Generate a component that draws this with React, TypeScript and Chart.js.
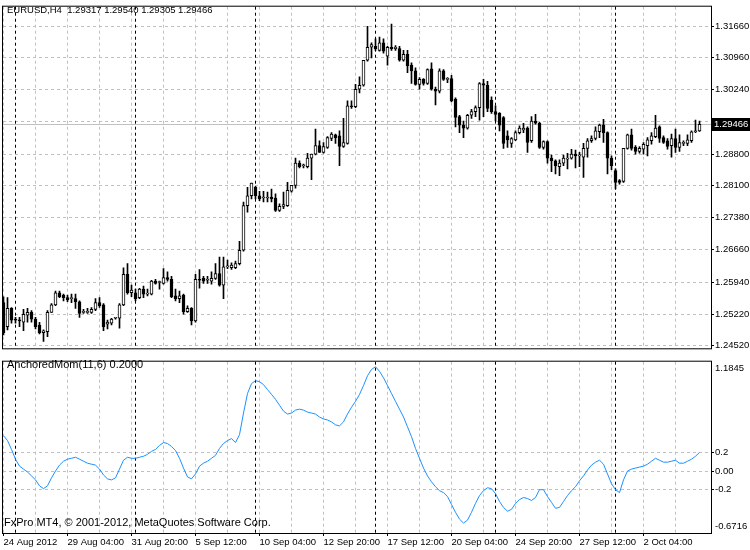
import React, { useEffect, useRef } from "react";
import { Chart, registerables } from "chart.js";

Chart.register(...registerables);

const symbolTitle = "EURUSD,H4  1.29317 1.29540 1.29305 1.29466";
const indicatorTitle = "AnchoredMom(11,6) 0.2000";
const copyrightText = "FxPro MT4, \u00a9 2001-2012, MetaQuotes Software Corp.";

const open = [
  1.2548, 1.2494, 1.2535, 1.2511, 1.2509, 1.2504, 1.2520, 1.2526, 1.2511, 1.2498,
  1.2481, 1.2483, 1.2526, 1.2543, 1.2570, 1.2565, 1.2559, 1.2557, 1.2557, 1.2550,
  1.2526, 1.2526, 1.2526, 1.2533, 1.2548, 1.2543, 1.2500, 1.2502, 1.2513, 1.2513,
  1.2543, 1.2611, 1.2570, 1.2570, 1.2559, 1.2578, 1.2567, 1.2567, 1.2596, 1.2593,
  1.2591, 1.2604, 1.2600, 1.2563, 1.2557, 1.2565, 1.2528, 1.2535, 1.2507, 1.2600,
  1.2602, 1.2598, 1.2596, 1.2602, 1.2613, 1.2587, 1.2628, 1.2626, 1.2626, 1.2635,
  1.2665, 1.2765, 1.2787, 1.2806, 1.2787, 1.2782, 1.2782, 1.2784, 1.2782, 1.2754,
  1.2763, 1.2765, 1.2797, 1.2810, 1.2860, 1.2854, 1.2852, 1.2871, 1.2880, 1.2899,
  1.2884, 1.2895, 1.2915, 1.2923, 1.2921, 1.2897, 1.2904, 1.2988, 1.2986, 1.3025,
  1.3034, 1.3090, 1.3119, 1.3121, 1.3112, 1.3129, 1.3099, 1.3119, 1.3116, 1.3116,
  1.3090, 1.3103, 1.3079, 1.3066, 1.3036, 1.3047, 1.3038, 1.3071, 1.3025, 1.3021,
  1.3066, 1.3047, 1.3049, 1.3003, 1.2964, 1.2945, 1.2938, 1.2967, 1.2975, 1.2984,
  1.3038, 1.3034, 1.3001, 1.2975, 1.2971, 1.2962, 1.2921, 1.2904, 1.2912, 1.2928,
  1.2934, 1.2938, 1.2910, 1.2954, 1.2949, 1.2895, 1.2908, 1.2871, 1.2865, 1.2852,
  1.2860, 1.2869, 1.2871, 1.2880, 1.2876, 1.2873, 1.2893, 1.2910, 1.2915, 1.2930,
  1.2945, 1.2928, 1.2871, 1.2843, 1.2821, 1.2819, 1.2893, 1.2923, 1.2895, 1.2886,
  1.2891, 1.2899, 1.2910, 1.2919, 1.2941, 1.2917, 1.2910, 1.2899, 1.2915, 1.2895,
  1.2904, 1.2904, 1.2910, 1.2930, 1.29317,
];

const high = [
  1.2561, 1.2559, 1.2537, 1.2515, 1.2515, 1.2533, 1.2535, 1.2530, 1.2515, 1.2504,
  1.2487, 1.2530, 1.2546, 1.2574, 1.2574, 1.2567, 1.2565, 1.2567, 1.2567, 1.2552,
  1.2533, 1.2535, 1.2537, 1.2557, 1.2559, 1.2546, 1.2509, 1.2513, 1.2515, 1.2546,
  1.2626, 1.2635, 1.2587, 1.2578, 1.2580, 1.2585, 1.2578, 1.2598, 1.2600, 1.2596,
  1.2624, 1.2617, 1.2607, 1.2578, 1.2574, 1.2567, 1.2541, 1.2537, 1.2611, 1.2622,
  1.2607, 1.2607, 1.2617, 1.2635, 1.2650, 1.2650, 1.2643, 1.2637, 1.2641, 1.2685,
  1.2773, 1.2806, 1.2815, 1.2808, 1.2797, 1.2797, 1.2795, 1.2802, 1.2791, 1.2769,
  1.2795, 1.2817, 1.2810, 1.2871, 1.2865, 1.2858, 1.2882, 1.2880, 1.2936, 1.2910,
  1.2906, 1.2919, 1.2928, 1.2925, 1.2932, 1.2960, 1.2999, 1.2999, 1.3036, 1.3053,
  1.3090, 1.3166, 1.3129, 1.3138, 1.3142, 1.3138, 1.3121, 1.3171, 1.3123, 1.3121,
  1.3112, 1.3112, 1.3084, 1.3073, 1.3051, 1.3049, 1.3071, 1.3084, 1.3030, 1.3071,
  1.3069, 1.3051, 1.3056, 1.3006, 1.2967, 1.2954, 1.2969, 1.2980, 1.2988, 1.3040,
  1.3047, 1.3043, 1.3008, 1.2988, 1.2973, 1.2964, 1.2932, 1.2917, 1.2932, 1.2943,
  1.2949, 1.2941, 1.2964, 1.2969, 1.2951, 1.2910, 1.2910, 1.2878, 1.2867, 1.2867,
  1.2878, 1.2882, 1.2891, 1.2889, 1.2884, 1.2904, 1.2915, 1.2921, 1.2941, 1.2947,
  1.2958, 1.2930, 1.2876, 1.2847, 1.2823, 1.2893, 1.2925, 1.2936, 1.2899, 1.2897,
  1.2906, 1.2917, 1.2928, 1.2967, 1.2943, 1.2921, 1.2915, 1.2925, 1.2936, 1.2923,
  1.2910, 1.2923, 1.2932, 1.2956, 1.29540,
];

const low = [
  1.2476, 1.2487, 1.2502, 1.2502, 1.2494, 1.2485, 1.2504, 1.2504, 1.2489, 1.2478,
  1.2461, 1.2472, 1.2526, 1.2541, 1.2559, 1.2552, 1.2550, 1.2548, 1.2535, 1.2515,
  1.2524, 1.2524, 1.2524, 1.2530, 1.2537, 1.2485, 1.2489, 1.2498, 1.2511, 1.2491,
  1.2541, 1.2567, 1.2561, 1.2552, 1.2557, 1.2559, 1.2563, 1.2565, 1.2589, 1.2578,
  1.2589, 1.2596, 1.2559, 1.2552, 1.2548, 1.2522, 1.2526, 1.2498, 1.2504, 1.2580,
  1.2591, 1.2591, 1.2589, 1.2600, 1.2585, 1.2557, 1.2624, 1.2622, 1.2624, 1.2632,
  1.2663, 1.2750, 1.2780, 1.2780, 1.2776, 1.2773, 1.2773, 1.2773, 1.2752, 1.2752,
  1.2758, 1.2763, 1.2795, 1.2804, 1.2849, 1.2849, 1.2849, 1.2823, 1.2878, 1.2884,
  1.2882, 1.2893, 1.2910, 1.2904, 1.2854, 1.2895, 1.2902, 1.2982, 1.2984, 1.3017,
  1.3032, 1.3088, 1.3095, 1.3112, 1.3110, 1.3106, 1.3079, 1.3112, 1.3112, 1.3088,
  1.3088, 1.3062, 1.3038, 1.3034, 1.3025, 1.3034, 1.3036, 1.3023, 1.2990, 1.3017,
  1.3045, 1.3040, 1.2997, 1.2941, 1.2928, 1.2917, 1.2936, 1.2960, 1.2964, 1.2956,
  1.2964, 1.2975, 1.2971, 1.2954, 1.2932, 1.2893, 1.2895, 1.2895, 1.2910, 1.2925,
  1.2928, 1.2884, 1.2906, 1.2947, 1.2893, 1.2891, 1.2860, 1.2841, 1.2836, 1.2832,
  1.2854, 1.2847, 1.2869, 1.2849, 1.2852, 1.2828, 1.2873, 1.2906, 1.2912, 1.2917,
  1.2906, 1.2836, 1.2845, 1.2802, 1.2813, 1.2817, 1.2891, 1.2889, 1.2880, 1.2882,
  1.2880, 1.2876, 1.2902, 1.2917, 1.2906, 1.2904, 1.2891, 1.2873, 1.2884, 1.2886,
  1.2899, 1.2899, 1.2906, 1.2928, 1.29305,
];

const close = [
  1.2481, 1.2535, 1.2509, 1.2509, 1.2507, 1.2522, 1.2526, 1.2511, 1.2494, 1.2481,
  1.2485, 1.2526, 1.2543, 1.2570, 1.2561, 1.2559, 1.2554, 1.2557, 1.2550, 1.2524,
  1.2526, 1.2528, 1.2533, 1.2548, 1.2541, 1.2494, 1.2504, 1.2511, 1.2513, 1.2543,
  1.2611, 1.2570, 1.2576, 1.2557, 1.2578, 1.2567, 1.2567, 1.2596, 1.2591, 1.2593,
  1.2604, 1.2600, 1.2561, 1.2557, 1.2563, 1.2528, 1.2535, 1.2507, 1.2600, 1.2598,
  1.2596, 1.2598, 1.2602, 1.2613, 1.2587, 1.2628, 1.2628, 1.2632, 1.2635, 1.2665,
  1.2765, 1.2787, 1.2815, 1.2787, 1.2780, 1.2782, 1.2784, 1.2780, 1.2754, 1.2763,
  1.2767, 1.2799, 1.2810, 1.2860, 1.2852, 1.2854, 1.2871, 1.2880, 1.2899, 1.2884,
  1.2897, 1.2917, 1.2925, 1.2917, 1.2897, 1.2906, 1.2988, 1.2986, 1.3025, 1.3034,
  1.3090, 1.3119, 1.3125, 1.3116, 1.3129, 1.3110, 1.3119, 1.3116, 1.3119, 1.3090,
  1.3103, 1.3077, 1.3066, 1.3036, 1.3047, 1.3038, 1.3069, 1.3025, 1.3021, 1.3066,
  1.3047, 1.3047, 1.2999, 1.2962, 1.2945, 1.2938, 1.2967, 1.2975, 1.2984, 1.3038,
  1.3034, 1.2982, 1.2975, 1.2969, 1.2945, 1.2904, 1.2912, 1.2915, 1.2928, 1.2938,
  1.2938, 1.2906, 1.2954, 1.2949, 1.2895, 1.2908, 1.2871, 1.2865, 1.2854, 1.2860,
  1.2871, 1.2871, 1.2880, 1.2876, 1.2876, 1.2893, 1.2910, 1.2915, 1.2932, 1.2945,
  1.2928, 1.2871, 1.2854, 1.2817, 1.2817, 1.2893, 1.2923, 1.2893, 1.2886, 1.2893,
  1.2902, 1.2912, 1.2921, 1.2938, 1.2915, 1.2906, 1.2897, 1.2915, 1.2895, 1.2906,
  1.2906, 1.2912, 1.2930, 1.2932, 1.29466,
];

const momentum = [
  0.383, 0.330, 0.234, 0.128, 0.053, 0.021, -0.011, -0.053, -0.096, -0.160,
  -0.191, -0.160, -0.074, 0.000, 0.064, 0.106, 0.128, 0.138, 0.149, 0.128,
  0.106, 0.085, 0.074, 0.064, 0.021, -0.043, -0.085, -0.096, -0.074, 0.021,
  0.117, 0.149, 0.138, 0.138, 0.149, 0.160, 0.181, 0.213, 0.234, 0.277,
  0.309, 0.298, 0.266, 0.223, 0.138, 0.032, -0.064, -0.085, -0.032, 0.053,
  0.085, 0.106, 0.138, 0.170, 0.245, 0.298, 0.330, 0.351, 0.309, 0.394,
  0.628, 0.840, 0.947, 0.979, 0.968, 0.936, 0.883, 0.830, 0.777, 0.713,
  0.649, 0.617, 0.628, 0.660, 0.670, 0.660, 0.638, 0.628, 0.617, 0.585,
  0.564, 0.553, 0.532, 0.500, 0.489, 0.532, 0.617, 0.691, 0.755, 0.830,
  0.926, 1.032, 1.100, 1.130, 1.080, 1.010, 0.926, 0.840, 0.755, 0.670,
  0.585, 0.479, 0.372, 0.245, 0.138, 0.032, -0.053, -0.117, -0.170, -0.213,
  -0.234, -0.277, -0.362, -0.447, -0.521, -0.564, -0.532, -0.447, -0.351, -0.266,
  -0.213, -0.181, -0.191, -0.245, -0.330, -0.394, -0.436, -0.415, -0.351, -0.309,
  -0.287, -0.298, -0.319, -0.287, -0.202, -0.202, -0.277, -0.340, -0.404, -0.394,
  -0.330, -0.266, -0.213, -0.170, -0.106, -0.053, 0.011, 0.064, 0.096, 0.117,
  0.074, -0.032, -0.138, -0.202, -0.234, -0.096, 0.000, 0.021, 0.032, 0.043,
  0.053, 0.074, 0.106, 0.138, 0.117, 0.096, 0.096, 0.106, 0.117, 0.085,
  0.085, 0.106, 0.128, 0.160, 0.202,
];

const priceTicks = [1.3166, 1.3096, 1.3024, 1.2952, 1.288, 1.281, 1.2738, 1.2666, 1.2594, 1.2522, 1.2452];
const momentumTicks = [1.1845, 0.2, 0, -0.2, -0.6716];
const momentumTickLabels = ["1.1845", "0.2", "0.00", "-0.2", "-0.6716"];
const momentumLevels = [0.2, 0, -0.2];
const dateTickIndex = [0, 16, 32, 48, 64, 80, 96, 112, 128, 144, 160];
const dateTickLabels = [
  "24 Aug 2012", "29 Aug 04:00", "31 Aug 20:00", "5 Sep 12:00", "10 Sep 04:00",
  "12 Sep 20:00", "17 Sep 12:00", "20 Sep 04:00", "24 Sep 20:00", "27 Sep 12:00", "2 Oct 04:00",
];
const weekStarts = [3, 33, 63, 93, 123, 153];
const gridEvery = 8;

// layout constants
const FONT = "'Liberation Sans', Arial, sans-serif";
const FONT_SIZE = 9.5;
const LABEL_FONT_SIZE = 11;
const X_MIN = -0.125;
const X_MAX = 176.875;
const P_MAX = 1.320966;
const P_MIN = 1.244582;
const M_MAX = 1.1845;
const M_MIN = -0.6716;
const SUB_AREA_H = 176;
const EDGE_INSET_PX = 7;
const GRID_COLOR = "#c0c0c0";

function crisp(v: number) {
  return Math.floor(v) + 0.5;
}

const verticalGridPlugin = {
  id: "verticalGrid",
  beforeDatasetsDraw(chart: any) {
    const { ctx, chartArea } = chart;
    const xs = chart.scales.x;
    ctx.save();
    ctx.lineWidth = 1;
    ctx.setLineDash([3, 3]);
    for (let i = 0; i < open.length; i += gridEvery) {
      const px = crisp(xs.getPixelForValue(i));
      ctx.strokeStyle = GRID_COLOR;
      ctx.beginPath();
      ctx.moveTo(px, chartArea.top);
      ctx.lineTo(px, chartArea.bottom);
      ctx.stroke();
    }
    for (const w of weekStarts) {
      const px = crisp(xs.getPixelForValue(w));
      ctx.strokeStyle = "#000";
      ctx.beginPath();
      ctx.moveTo(px, chartArea.top);
      ctx.lineTo(px, chartArea.bottom);
      ctx.stroke();
    }
    ctx.restore();
  },
};

const bidLinePlugin = {
  id: "bidLine",
  beforeDatasetsDraw(chart: any) {
    const { ctx, chartArea } = chart;
    const y = crisp(chart.scales.y.getPixelForValue(close[close.length - 1]));
    ctx.save();
    ctx.strokeStyle = GRID_COLOR;
    ctx.lineWidth = 1;
    ctx.beginPath();
    ctx.moveTo(chartArea.left, y);
    ctx.lineTo(chartArea.right, y);
    ctx.stroke();
    ctx.restore();
  },
  afterDraw(chart: any) {
    const { ctx, chartArea } = chart;
    const last = close[close.length - 1];
    const y = Math.round(chart.scales.y.getPixelForValue(last));
    ctx.save();
    ctx.fillStyle = "#000";
    ctx.fillRect(chartArea.right + 1, y - 6, 750 - chartArea.right - 1, 13);
    ctx.fillStyle = "#fff";
    ctx.font = `${FONT_SIZE}px ${FONT}`;
    ctx.textBaseline = "middle";
    ctx.textAlign = "left";
    ctx.fillText(last.toFixed(5), chartArea.right + 3, y + 0.5);
    ctx.restore();
  },
};

function makeFramePlugin(texts: { text: string; x: number; y: number; size: number }[]) {
  return {
    id: "frameAndText",
    afterDraw(chart: any) {
      const { ctx, chartArea } = chart;
      ctx.save();
      ctx.strokeStyle = "#000";
      ctx.lineWidth = 1;
      ctx.setLineDash([]);
      ctx.strokeRect(
        chartArea.left - 0.5,
        chartArea.top - 0.5,
        chartArea.right - chartArea.left + 1,
        chartArea.bottom - chartArea.top + 1
      );
      ctx.fillStyle = "#000";
      ctx.textBaseline = "middle";
      ctx.textAlign = "left";
      for (const t of texts) {
        ctx.font = `${t.size}px ${FONT}`;
        ctx.fillText(t.text, t.x, t.y);
      }
      ctx.restore();
    },
  };
}

export default function App() {
  const mainRef = useRef<HTMLCanvasElement>(null);
  const subRef = useRef<HTMLCanvasElement>(null);

  useEffect(() => {
    document.body.style.margin = "0";
    if (!mainRef.current || !subRef.current) return;

    const wickData = open.map((_, i) => ({ x: i, y: [low[i], high[i]] }));
    const bodyData = open.map((o, i) => ({ x: i, y: [Math.min(o, close[i]), Math.max(o, close[i])] }));
    const bodyColors = open.map((o, i) => (close[i] >= o ? "#ffffff" : "#000000"));

    const mainChart = new Chart(mainRef.current, {
      type: "bar",
      data: {
        datasets: [
          {
            label: "wick",
            data: wickData as any,
            backgroundColor: "#000",
            borderWidth: 0,
            barThickness: 1,
            grouped: false,
            order: 2,
          } as any,
          {
            label: "body",
            data: bodyData as any,
            backgroundColor: bodyColors,
            borderColor: "#000",
            borderWidth: 1,
            borderSkipped: false,
            barThickness: 3,
            minBarLength: 1,
            grouped: false,
            order: 1,
          } as any,
        ],
      },
      options: {
        responsive: false,
        animation: false,
        devicePixelRatio: 1,
        events: [],
        layout: { padding: { left: 3, top: 2, right: 0, bottom: 1 } },
        plugins: { legend: { display: false }, tooltip: { enabled: false } },
        scales: {
          x: { type: "linear", min: X_MIN, max: X_MAX, display: false, offset: false },
          y: {
            position: "right",
            min: P_MIN,
            max: P_MAX,
            afterFit: (s: any) => {
              s.width = 39;
            },
            afterBuildTicks: (s: any) => {
              s.ticks = priceTicks.map((v) => ({ value: v }));
            },
            ticks: {
              callback: (v: any) => Number(v).toFixed(5),
              font: { family: FONT, size: FONT_SIZE },
              color: "#000",
              padding: 1,
              autoSkip: false,
            },
            grid: {
              color: GRID_COLOR,
              drawTicks: true,
              tickLength: 3,
              tickColor: "#000",
              tickBorderDash: [],
            },
            border: { display: false, dash: [3, 3] },
          } as any,
        },
      } as any,
      plugins: [
        verticalGridPlugin,
        bidLinePlugin,
        makeFramePlugin([{ text: symbolTitle, x: 7, y: 10, size: FONT_SIZE }]),
      ],
    });

    const edgeInset = (EDGE_INSET_PX * (M_MAX - M_MIN)) / SUB_AREA_H;

    const subChart = new Chart(subRef.current, {
      type: "line",
      data: {
        datasets: [
          {
            label: "AnchoredMom",
            data: momentum.map((v, i) => ({ x: i, y: v })),
            borderColor: "#1e90ff",
            borderWidth: 1,
            pointRadius: 0,
            tension: 0,
            fill: false,
          },
        ],
      },
      options: {
        responsive: false,
        animation: false,
        devicePixelRatio: 1,
        events: [],
        layout: { padding: { left: 3, top: 2, right: 0, bottom: 0 } },
        plugins: { legend: { display: false }, tooltip: { enabled: false } },
        scales: {
          x: {
            type: "linear",
            min: X_MIN,
            max: X_MAX,
            offset: false,
            afterFit: (s: any) => {
              s.height = 17;
            },
            afterBuildTicks: (s: any) => {
              s.ticks = dateTickIndex.map((v) => ({ value: v }));
            },
            ticks: {
              callback: (_v: any, idx: number) => dateTickLabels[idx],
              font: { family: FONT, size: FONT_SIZE },
              color: "#000",
              align: "start",
              maxRotation: 0,
              autoSkip: false,
              padding: 1,
            },
            grid: {
              drawOnChartArea: false,
              drawTicks: true,
              tickLength: 3,
              tickColor: "#000",
            },
            border: { display: false },
          } as any,
          y: {
            position: "right",
            min: M_MIN,
            max: M_MAX,
            afterFit: (s: any) => {
              s.width = 39;
            },
            afterBuildTicks: (s: any) => {
              s.ticks = momentumTicks.map((v) => ({
                value: v === M_MAX ? v - edgeInset : v === M_MIN ? v + edgeInset : v,
              }));
            },
            ticks: {
              callback: (_v: any, idx: number) => momentumTickLabels[idx],
              font: { family: FONT, size: FONT_SIZE },
              color: "#000",
              padding: 1,
              autoSkip: false,
            },
            grid: {
              color: (c: any) =>
                c.tick && momentumLevels.includes(c.tick.value) ? GRID_COLOR : "rgba(0,0,0,0)",
              drawTicks: true,
              tickLength: 3,
              tickColor: (c: any) =>
                c.tick && momentumLevels.includes(c.tick.value) ? "#000" : "rgba(0,0,0,0)",
              tickBorderDash: [],
            },
            border: { display: false, dash: [3, 3] },
          } as any,
        },
      } as any,
      plugins: [
        verticalGridPlugin,
        makeFramePlugin([
          { text: indicatorTitle, x: 7, y: 10, size: LABEL_FONT_SIZE },
          { text: copyrightText, x: 4, y: 168, size: LABEL_FONT_SIZE },
        ]),
      ],
    });

    return () => {
      mainChart.destroy();
      subChart.destroy();
    };
  }, []);

  return (
    <div style={{ position: "relative", width: 750, height: 550, background: "#fff" }}>
      <canvas
        ref={mainRef}
        width={750}
        height={355}
        style={{ position: "absolute", left: 0, top: 0, width: 750, height: 355 }}
      />
      <canvas
        ref={subRef}
        width={750}
        height={195}
        style={{ position: "absolute", left: 0, top: 355, width: 750, height: 195 }}
      />
    </div>
  );
}
